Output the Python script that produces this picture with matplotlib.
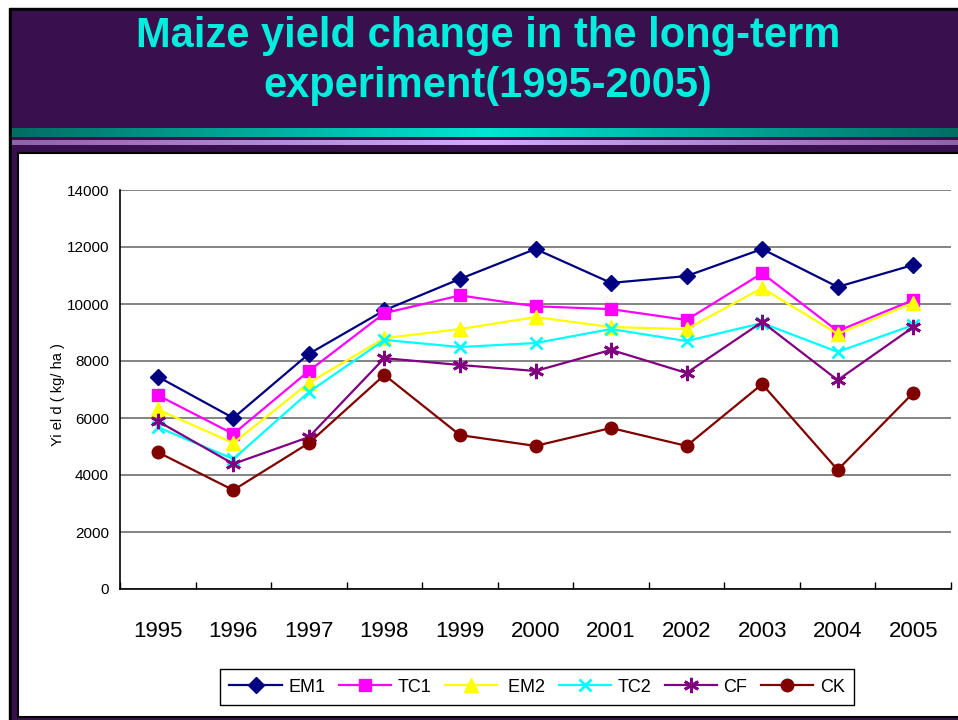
import numpy as np
import matplotlib
matplotlib.use('Agg')
import matplotlib.pyplot as plt
from matplotlib import font_manager
from matplotlib.patches import Rectangle
from matplotlib.lines import Line2D

years = ['1995', '1996', '1997', '1998', '1999', '2000',
         '2001', '2002', '2003', '2004', '2005']

em1 = [7450, 6000, 8250, 9780, 10880, 11930, 10740, 10980, 11930, 10600, 11370]
tc1 = [6800, 5440, 7650, 9680, 10300, 9920, 9820, 9440, 11080, 9050, 10140]
em2 = [6300, 5120, 7230, 8800, 9120, 9540, 9190, 9120, 10560, 8950, 10040]
tc2 = [5680, 4560, 6910, 8740, 8490, 8630, 9120, 8700, 9330, 8320, 9260]
cf = [5890, 4390, 5330, 8100, 7860, 7650, 8390, 7580, 9370, 7330, 9190]
ck = [4800, 3470, 5120, 7510, 5400, 5020, 5650, 5020, 7190, 4180, 6880]

series_names = ['EM1', 'TC1', ' EM2', 'TC2', 'CF', 'CK']
series_vals = [em1, tc1, em2, tc2, cf, ck]
colors = ['#000080', '#FF00FF', '#FFFF00', '#00FFFF', '#800080', '#800000']
markers = ['D', 's', '^', 'x', (6, 2, 0), 'o']
msizes = [8, 8, 10, 9, 11, 9]

title_lines = ['Maize yield change in the long-term', 'experiment(1995-2005)']

# pick a condensed face if there is one
names = {f.name for f in font_manager.fontManager.ttflist}
narrow = 'Liberation Sans Narrow' if 'Liberation Sans Narrow' in names else 'Liberation Sans'

W, H = 958, 720
fig = plt.figure(figsize=(W / 100, H / 100), dpi=100, facecolor='white')

# slide background, drawn in pixel coordinates
bg = fig.add_axes([0, 0, 1, 1], zorder=0)
bg.axis('off')
bg.add_patch(Rectangle((9, 8), W - 9, H - 8, color='black', zorder=1))
bg.add_patch(Rectangle((12, 11), W - 12, H - 11, color='#3A0F4E', zorder=1))


def stripe(y0, y1, edge, mid):
    t = np.linspace(0, 1, 400)
    w = 1 - np.abs(t - 0.5) * 2
    e = np.array(matplotlib.colors.to_rgb(edge))
    m = np.array(matplotlib.colors.to_rgb(mid))
    img = e[None, :] * (1 - w[:, None]) + m[None, :] * w[:, None]
    bg.imshow(img[None, :, :], extent=(12, W, y1, y0), aspect='auto',
              interpolation='bilinear', zorder=2)


stripe(128, 137, '#006E62', '#00E6D2')
stripe(140, 145, '#8C64A8', '#D8A6FF')
bg.add_patch(Rectangle((18.5, 152.5), W, 564, facecolor='white',
                       edgecolor='black', linewidth=1.5, zorder=3))
bg.set_xlim(0, W)
bg.set_ylim(H, 0)

for line, base in zip(title_lines, [47, 97]):
    fig.text(488 / W, 1 - base / H, line, color='#00EEDD', fontsize=30,
             fontweight='bold', family='Liberation Sans', ha='center',
             va='baseline')

# chart
x0, x1, y0, y1 = 120, 951, 190, 589
ax = fig.add_axes([x0 / W, 1 - y1 / H, (x1 - x0) / W, (y1 - y0) / H], zorder=2)
ax.set_facecolor('none')
x = np.arange(len(years))
for vals, c, m, ms in zip(series_vals, colors, markers, msizes):
    mew = 2 if m in ('x', (6, 2, 0)) else 1
    ax.plot(x, vals, color=c, linewidth=1.6, marker=m, markersize=ms,
            markeredgewidth=mew, markerfacecolor=c, markeredgecolor=c,
            clip_on=False)

ax.set_xlim(-0.5, len(years) - 0.5)
ax.set_ylim(0, 14000)
ax.set_yticks(np.arange(0, 14001, 2000))
ax.set_xticks(x)
ax.set_xticklabels(years)
ax.set_xticks(np.arange(-0.5, len(years), 1), minor=True)
ax.tick_params(axis='x', which='major', length=0, pad=23, labelsize=16)
ax.tick_params(axis='x', which='minor', length=5, direction='in', width=1)
ax.tick_params(axis='y', length=0, pad=8, labelsize=11)
for lab in ax.get_xticklabels() + ax.get_yticklabels():
    lab.set_family(narrow)
ax.grid(axis='y', color='#7A7A7A', linewidth=1.3)
ax.set_axisbelow(True)
for s in ('top', 'right'):
    ax.spines[s].set_visible(False)
ax.spines['left'].set_linewidth(1.2)
ax.spines['bottom'].set_linewidth(1.2)

fig.text(58 / W, 1 - 395 / H, 'Yi el d ( kg/ ha )', rotation=90,
         fontsize=10.5, family='Liberation Sans', ha='center', va='center')

handles = [Line2D([], [], color=c, linewidth=1.6, marker=m, markersize=ms,
                  markeredgewidth=2 if m in ('x', (6, 2, 0)) else 1,
                  markerfacecolor=c, markeredgecolor=c)
           for c, m, ms in zip(colors, markers, msizes)]
leg = fig.legend(handles, series_names, loc='center', ncol=6,
                 bbox_to_anchor=(537 / W, 1 - 687 / H), frameon=True,
                 fancybox=False, edgecolor='black', framealpha=1,
                 handlelength=2.9, handletextpad=0.35, columnspacing=0.75,
                 borderpad=0.55, borderaxespad=0,
                 prop={'family': narrow, 'size': 13})
leg.get_frame().set_linewidth(1)

fig.savefig('out.png', dpi=100, facecolor='white')
